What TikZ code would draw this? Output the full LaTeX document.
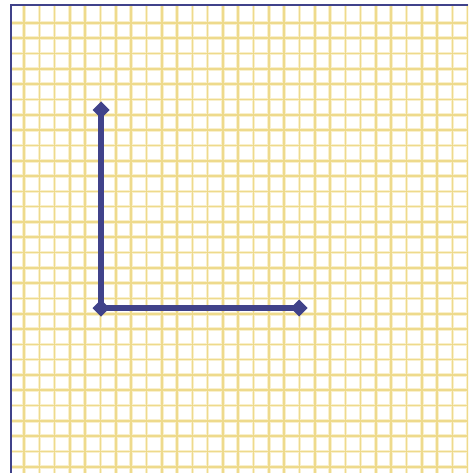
\documentclass[tikz,border=0pt]{standalone}
\usetikzlibrary{shapes.geometric,positioning}
\definecolor{gridyellow}{RGB}{238,218,140}
\definecolor{gridhalo}{RGB}{249,240,205}
\definecolor{axisblue}{RGB}{64,66,138}
\tikzset
{
    gridline/.style  = {draw=gridyellow, line width=1.6pt},
    gridglow/.style  = {draw=gridhalo, line width=3.6pt},
    frameline/.style = {draw=axisblue, line width=2pt},
    axisline/.style  = {draw=axisblue, line width=6pt},
    axisend/.style   = {diamond, fill=axisblue, inner sep=0pt, outer sep=0pt, minimum size=17pt}
}

\begin{document}
\begin{tikzpicture}[x=1pt, y=-1pt]
\useasboundingbox (0,0) rectangle (468,473);
% graph paper
\begin{scope}
\clip (10.5,5) rectangle (468,473);
\foreach \k in {0,...,29}
{
	\draw[gridglow] ({24+15.3*\k},0) -- ({24+15.3*\k},473);
	\draw[gridglow] (0,{23+15.3*\k}) -- (468,{23+15.3*\k});
}
\foreach \k in {0,...,29}
{
	\draw[gridline] ({24+15.3*\k},0) -- ({24+15.3*\k},473);
	\draw[gridline] (0,{23+15.3*\k}) -- (468,{23+15.3*\k});
}
\end{scope}
% frame
\coordinate (framebottom) at (10.5,473);
\coordinate (framecorner) at (10.5,5);
\coordinate (frameright) at (468,5);
\draw[frameline] (framebottom) -- (framecorner) -- (frameright);
% axes
\node[axisend] (origin) at (101,308) {};
\node[axisend, above=181pt of origin] (ytip) {};
\node[axisend, right=181pt of origin] (xtip) {};
\draw[axisline] (ytip.center) -- (origin.center) -- (xtip.center);
\end{tikzpicture}
\end{document}
